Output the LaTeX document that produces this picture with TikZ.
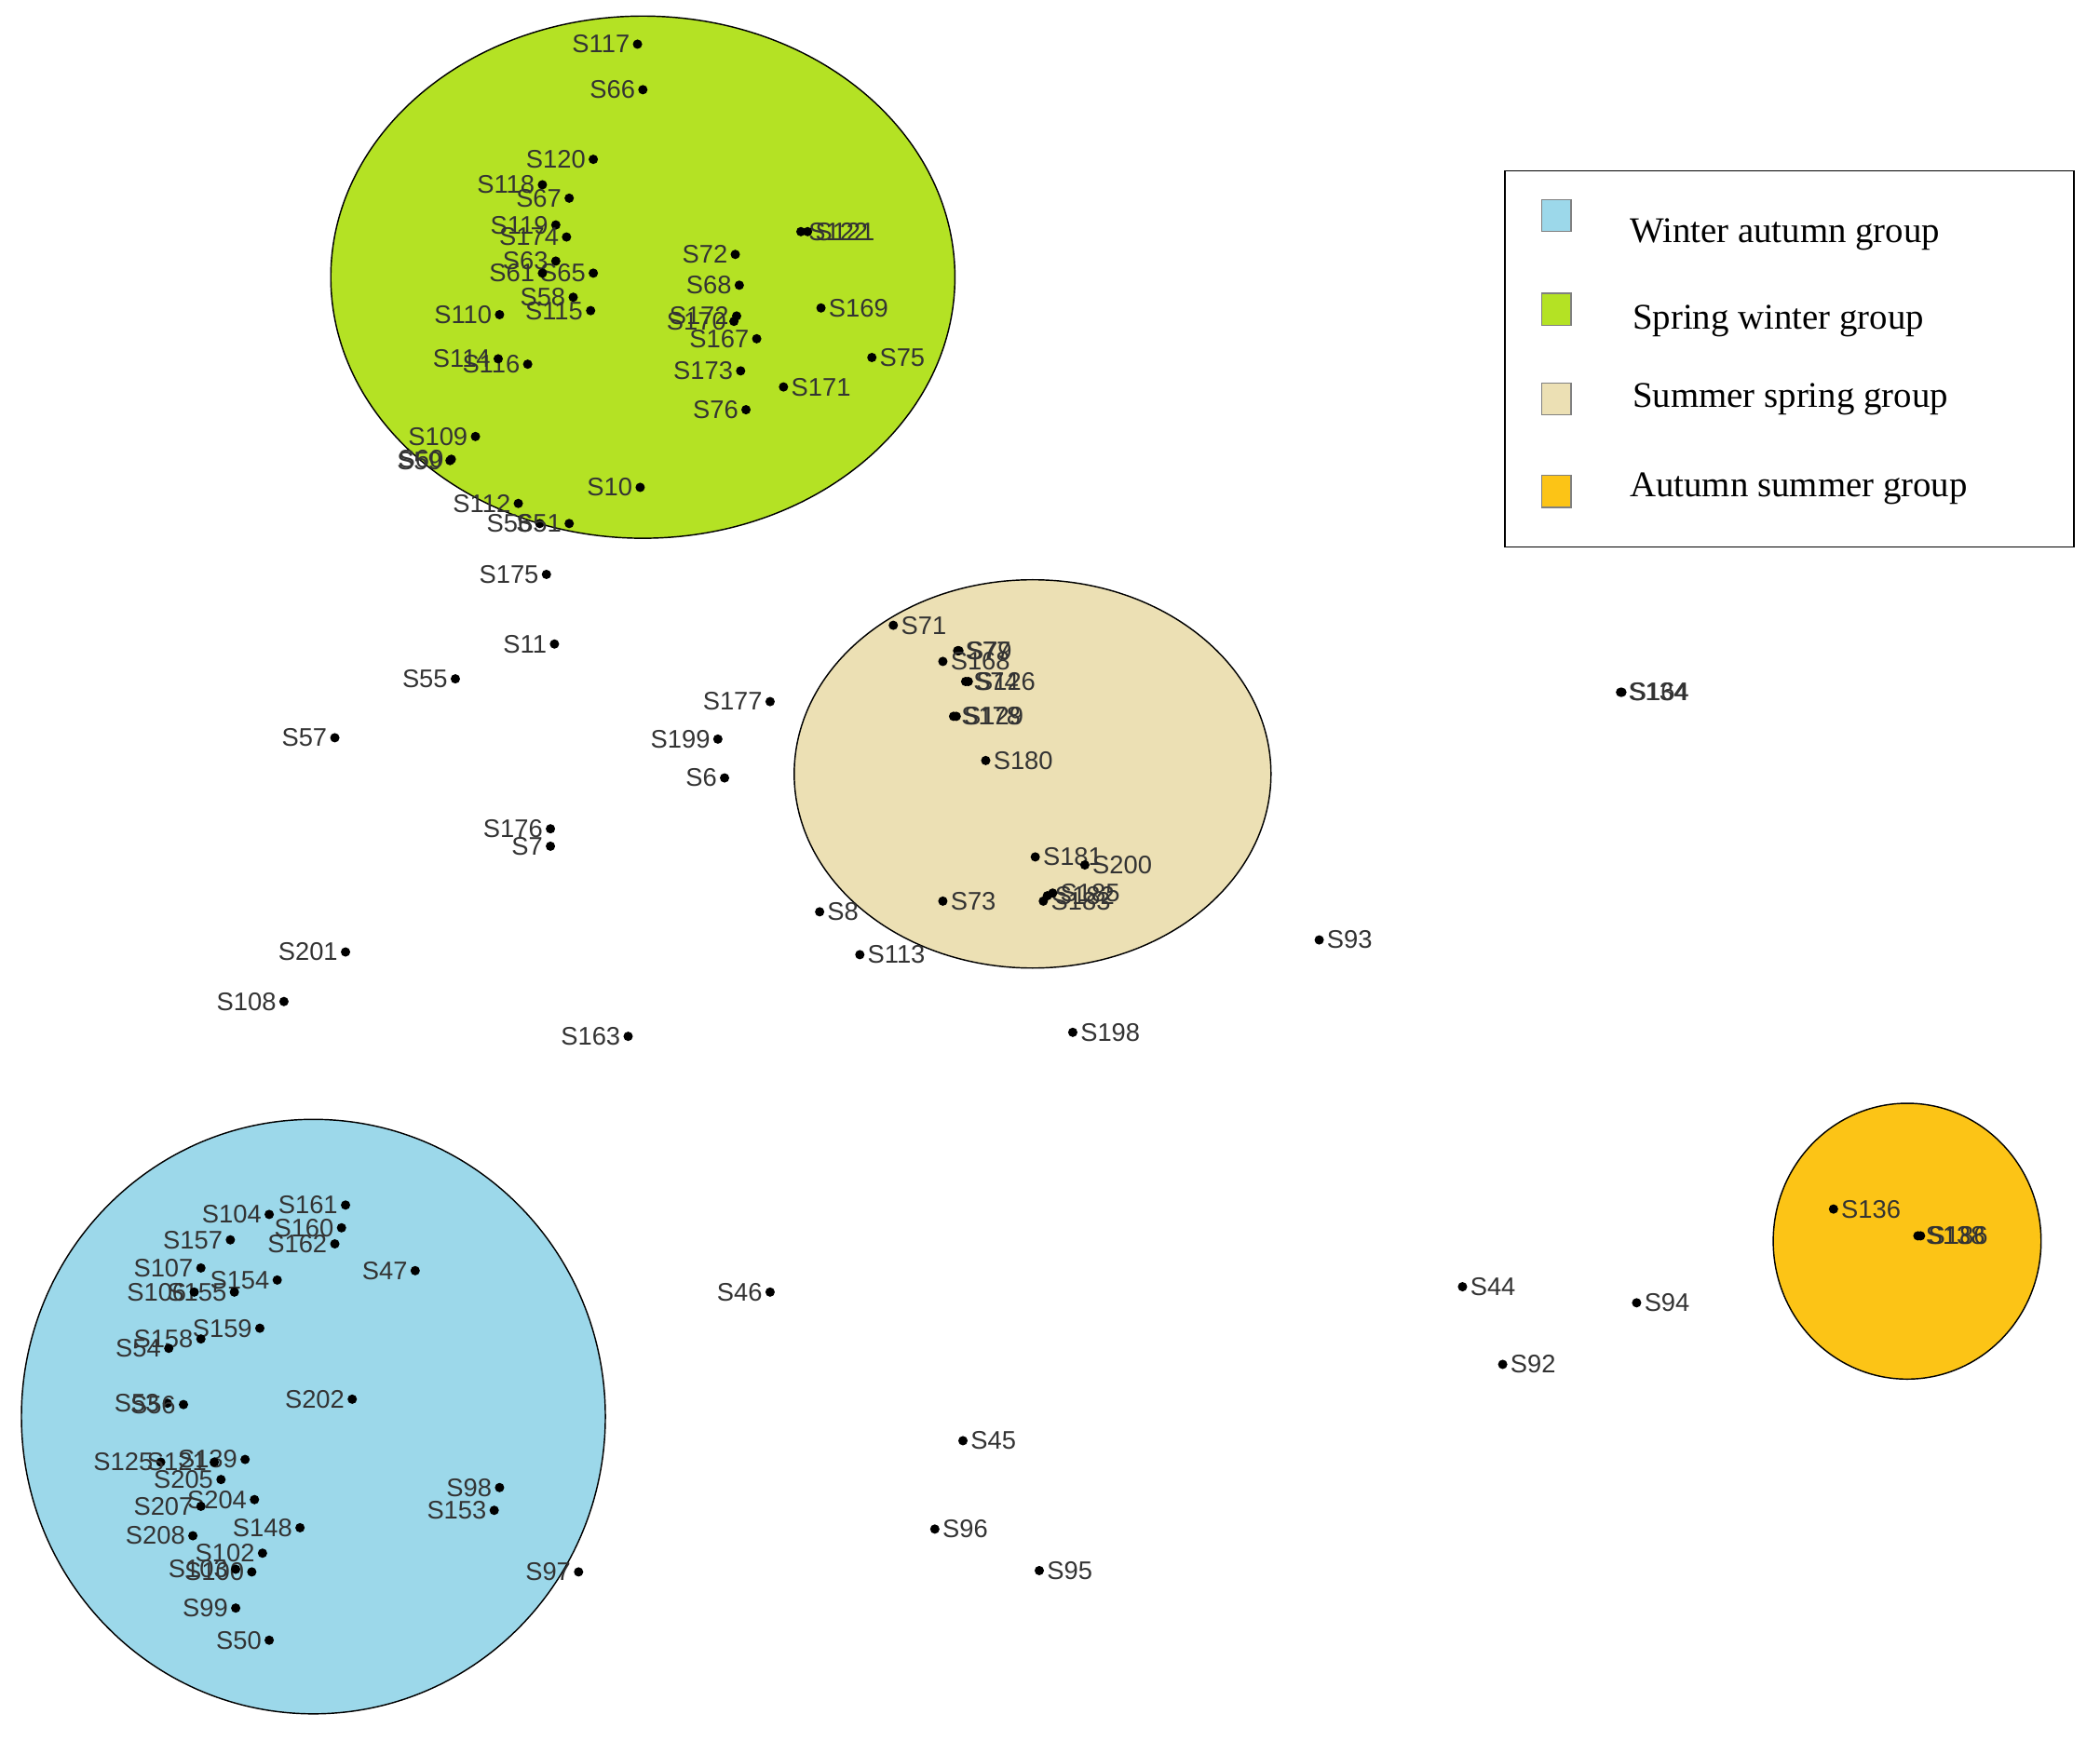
\documentclass[tikz,border=0pt]{standalone}
\usepackage{fontspec}
\setmainfont{Liberation Serif}
\newfontfamily\lab{Liberation Sans}
\begin{document}
\begin{tikzpicture}[x=0.5pt,y=-0.5pt,
  dot/.style={circle,fill=black,inner sep=0pt,minimum size=3.5pt},
  lbl/.style={font=\lab\fontsize{9.5}{9.5}\selectfont,inner sep=0.5pt,text=black!80},
  grp/.style={draw=black,line width=0.5pt},
  sw/.style={draw=black!50,line width=0.4pt,minimum width=11pt,minimum height=12pt,inner sep=0pt},
  leg/.style={font=\fontsize{13.5}{13.5}\selectfont,anchor=west}]
\useasboundingbox (0,0) rectangle (1568,1300);
\fill[white] (0,0) rectangle (1568,1300);
\draw[grp,fill={rgb,255:red,180;green,226;blue,36}] (480,207) ellipse [x radius=233,y radius=195];
\draw[grp,fill={rgb,255:red,236;green,224;blue,180}] (771,578) ellipse [x radius=178,y radius=145];
\draw[grp,fill={rgb,255:red,156;green,216;blue,234}] (234,1058) ellipse [x radius=218,y radius=222];
\draw[grp,fill={rgb,255:red,252;green,196;blue,22}] (1424,927) ellipse [x radius=100,y radius=103];
% legend
\node[draw,line width=0.6pt,minimum width=212.5pt,minimum height=140.5pt,anchor=north west,inner sep=0pt] (legend) at (1123,127) {};
\node[sw,fill={rgb,255:red,156;green,216;blue,234}] (s1) at (1162,161) {};
\node[sw,fill={rgb,255:red,180;green,226;blue,36}] (s2) at (1162,231) {};
\node[sw,fill={rgb,255:red,236;green,224;blue,180}] (s3) at (1162,298) {};
\node[sw,fill={rgb,255:red,252;green,196;blue,22}] (s4) at (1162,367) {};
\node[leg] (t1) at (1210,175) {Winter autumn group};
\node[leg] (t2) at (1212,240) {Spring winter group};
\node[leg] (t3) at (1212,298) {Summer spring group};
\node[leg] (t4) at (1210,365) {Autumn summer group};
% points: x/y/label/side
\foreach \x/\y/\t/\a [count=\i] in {
476/33/S117/left,480/67/S66/left,443/119/S120/left,405/138/S118/left,425/148/S67/left,
415/168/S119/left,423/177/S174/left,415/195/S63/left,443/204/S65/left,405/204/S61/left,
428/222/S58/left,441/232/S115/left,373/235/S110/left,394/272/S116/left,372/268/S114/left,
549/190/S72/left,552/213/S68/left,550/236/S172/left,548/240/S170/left,565/253/S167/left,
553/277/S173/left,557/306/S76/left,598/173/S122/right,603/173/S121/right,613/230/S169/right,
651/267/S75/right,585/289/S171/right,355/326/S109/left,337/343/S60/left,336/344/S59/left,
478/364/S10/left,387/376/S112/left,403/391/S56/left,425/391/S51/left,408/429/S175/left,
414/481/S11/left,340/507/S55/left,250/551/S57/left,575/524/S177/left,536/552/S199/left,
541/581/S6/left,411/619/S176/left,411/632/S7/left,612/681/S8/right,258/711/S201/left,
212/748/S108/left,469/774/S163/left,642/713/S113/right,
667/467/S71/right,715/486/S77/right,716/486/S79/right,704/494/S168/right,721/509/S74/right,
723/509/S126/right,712/535/S178/right,714/535/S129/right,736/568/S180/right,773/640/S181/right,
810/646/S200/right,704/673/S73/right,779/673/S183/right,782/669/S182/right,786/667/S185/right,
985/702/S93/right,801/771/S198/right,1210/517/S134/right,1211/517/S164/right,
575/965/S46/left,1092/961/S44/right,1122/1019/S92/right,1222/973/S94/right,719/1076/S45/right,
698/1142/S96/right,776/1173/S95/right,1369/903/S136/right,1432/923/S138/right,1434/923/S186/right,
258/900/S161/left,201/907/S104/left,255/917/S160/left,250/929/S162/left,172/926/S157/left,
310/949/S47/left,150/947/S107/left,207/956/S154/left,175/965/S155/left,145/965/S106/left,
194/992/S159/left,150/1000/S158/left,126/1007/S54/left,125/1048/S53/left,137/1049/S56/left,
263/1045/S202/left,183/1090/S139/left,120/1092/S125/left,160/1092/S121/left,165/1105/S205/left,
190/1120/S204/left,150/1125/S207/left,373/1111/S98/left,369/1128/S153/left,144/1147/S208/left,
224/1141/S148/left,196/1160/S102/left,188/1174/S100/left,176/1172/S103/left,432/1174/S97/left,
176/1201/S99/left,201/1225/S50/left}{
  \node[dot] (p\i) at (\x,\y) {};
  \node[lbl,\a=2.2pt] (l\i) at (p\i) {\t};
}
\end{tikzpicture}
\end{document}
